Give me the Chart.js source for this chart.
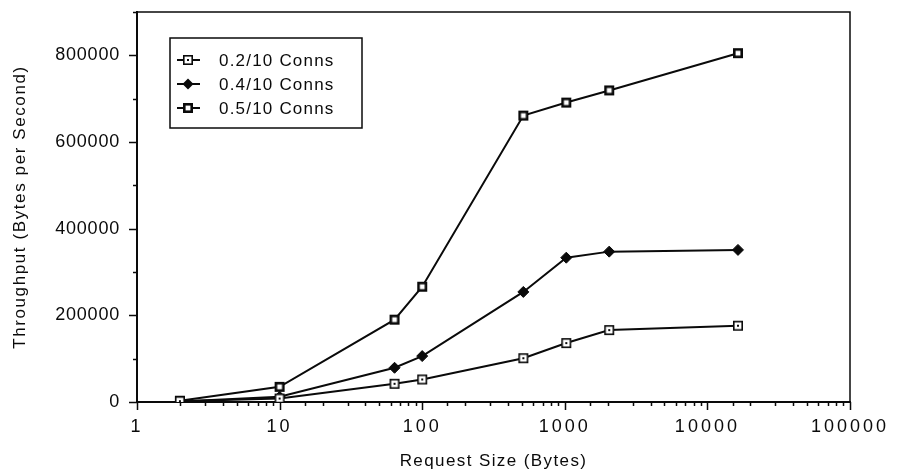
<!DOCTYPE html>
<html lang="en">
<head>
<meta charset="UTF-8">
<title>Throughput vs Request Size</title>
<script src="https://cdn.jsdelivr.net/npm/chart.js"></script>
<style>
  body { margin: 0; background: #fff; }
  #wrap { width: 904px; height: 474px; }
</style>
</head>
<body>
<div id="wrap"><canvas id="chart" width="904" height="474"></canvas></div>
<script>
// values
const requestSizes = [2, 10, 64, 100, 512, 1024, 2048, 16384];
const conns02 = [2000, 8000, 42000, 52000, 101000, 136000, 166000, 176000];
const conns04 = [1000, 12000, 79000, 106000, 254000, 333000, 347000, 351000];
const conns05 = [3000, 35000, 190000, 266000, 661000, 691000, 719000, 805000];
const seriesLabels = ['0.2/10 Conns', '0.4/10 Conns', '0.5/10 Conns'];
const xTickLabels = [1, 10, 100, 1000, 10000, 100000];
const yTickLabels = [0, 200000, 400000, 600000, 800000];

const ink = '#0a0a0a';
const fontFamily = '"Liberation Sans", Arial, Helvetica, sans-serif';

// small square markers (drawn once, used as point images)
function squareMarker(lineW, dot) {
    const c = document.createElement('canvas');
    c.width = 12; c.height = 12;
    const g = c.getContext('2d');
    g.fillStyle = '#fff';
    g.fillRect(1, 1, 10, 10);
    g.strokeStyle = ink;
    g.lineWidth = lineW;
    g.strokeRect(1 + lineW / 2, 1 + lineW / 2, 10 - lineW, 10 - lineW);
    if (dot) { g.fillStyle = ink; g.fillRect(5, 5, 2, 2); }
    return c;
}
const dotSquare = squareMarker(1.6, true);
const boldSquare = squareMarker(2.6, false);

function toPoints(ys) {
    return requestSizes.map((x, i) => ({x: x, y: ys[i]}));
}

// letter spacing for the axis texts (the original is a spaced-out print font)
const spacingPlugin = {
    id: 'spacing',
    beforeDraw(chart) {
        [['x', '3px', '1.4px'], ['y', '0.8px', '1.6px']].forEach(([id, tickSp, titleSp]) => {
            const s = chart.scales[id];
            if (s._spaced) return;
            s._spaced = true;
            const dl = s.drawLabels.bind(s);
            const dt = s.drawTitle.bind(s);
            s.drawLabels = (area) => { s.ctx.save(); s.ctx.letterSpacing = tickSp; dl(area); s.ctx.restore(); };
            s.drawTitle = () => { s.ctx.save(); s.ctx.letterSpacing = titleSp; dt(); s.ctx.restore(); };
        });
    }
};

// frame, tick marks and the boxed legend
const frameTicks = {
    id: 'frameTicks',
    afterDraw(chart) {
        const {ctx, chartArea: a, scales: {x, y}} = chart;
        ctx.save();
        ctx.strokeStyle = ink;
        ctx.lineWidth = 1.5;
        ctx.beginPath();
        ctx.moveTo(a.left, a.top);
        ctx.lineTo(a.right, a.top);
        ctx.lineTo(a.right, a.bottom);
        x.ticks.forEach(t => {
            const px = Math.round(x.getPixelForValue(t.value)) + 0.5;
            const len = xTickLabels.includes(t.value) ? 8 : 4;
            ctx.moveTo(px, a.bottom);
            ctx.lineTo(px, a.bottom + len);
        });
        y.ticks.forEach(t => {
            const py = Math.round(y.getPixelForValue(t.value)) + 0.5;
            const len = yTickLabels.includes(t.value) ? 8 : 4;
            ctx.moveTo(a.left, py);
            ctx.lineTo(a.left - len, py);
        });
        ctx.stroke();

        // legend
        const lx = a.left + 33, ly = a.top + 26;
        ctx.lineWidth = 1.5;
        ctx.strokeRect(lx, ly, 192, 90);
        ctx.font = '17px ' + fontFamily;
        ctx.letterSpacing = '1.2px';
        ctx.textBaseline = 'middle';
        ctx.fillStyle = ink;
        chart.data.datasets.forEach((ds, i) => {
            const cy = ly + 22 + i * 24;
            ctx.lineWidth = 2;
            ctx.beginPath();
            ctx.moveTo(lx + 7, cy);
            ctx.lineTo(lx + 30, cy);
            ctx.stroke();
            if (ds.pointStyle instanceof HTMLCanvasElement) {
                ctx.drawImage(ds.pointStyle, lx + 18 - 6, cy - 6);
            } else {
                const r = ds.pointRadius;
                ctx.beginPath();
                ctx.moveTo(lx + 18, cy - r);
                ctx.lineTo(lx + 18 + r, cy);
                ctx.lineTo(lx + 18, cy + r);
                ctx.lineTo(lx + 18 - r, cy);
                ctx.closePath();
                ctx.fill();
            }
            ctx.fillText(ds.label, lx + 49, cy + 1);
        });
        ctx.restore();
    }
};

const ctx = document.getElementById('chart').getContext('2d');
const chart = new Chart(ctx, {
    type: 'line',
    data: {
        datasets: [
            {
                label: seriesLabels[0],
                data: toPoints(conns02),
                borderColor: ink,
                borderWidth: 2,
                pointStyle: dotSquare,
                pointRadius: 6,
                fill: false
            },
            {
                label: seriesLabels[1],
                data: toPoints(conns04),
                borderColor: ink,
                backgroundColor: ink,
                borderWidth: 2,
                pointStyle: 'rectRot',
                pointRadius: 5.5,
                pointBorderWidth: 1,
                fill: false
            },
            {
                label: seriesLabels[2],
                data: toPoints(conns05),
                borderColor: ink,
                borderWidth: 2,
                pointStyle: boldSquare,
                pointRadius: 6,
                fill: false
            }
        ]
    },
    options: {
        responsive: false,
        animation: false,
        events: [],
        layout: { padding: { top: 12, right: 54, left: 0, bottom: 0 } },
        plugins: {
            legend: { display: false },
            tooltip: { enabled: false }
        },
        scales: {
            x: {
                type: 'logarithmic',
                min: 1,
                max: 100000,
                grid: { display: false, drawTicks: false },
                border: { display: true, color: ink, width: 2 },
                ticks: {
                    autoSkip: false,
                    maxRotation: 0,
                    padding: 14,
                    color: ink,
                    font: { family: fontFamily, size: 18 },
                    callback: v => xTickLabels.includes(v) ? String(v) : ''
                },
                title: {
                    display: true,
                    text: 'Request Size (Bytes)',
                    color: ink,
                    font: { family: fontFamily, size: 17 },
                    padding: { top: 0, bottom: 2 }
                },
                afterFit: s => { s.height = 72; s.paddingLeft = 0; s.paddingRight = 0; }
            },
            y: {
                min: 0,
                max: 900000,
                grid: { display: false, drawTicks: false },
                border: { display: true, color: ink, width: 2 },
                ticks: {
                    stepSize: 100000,
                    autoSkip: false,
                    padding: 17,
                    color: ink,
                    font: { family: fontFamily, size: 18 },
                    callback: v => yTickLabels.includes(v) ? String(v) : ''
                },
                title: {
                    display: true,
                    text: 'Throughput (Bytes per Second)',
                    color: ink,
                    font: { family: fontFamily, size: 17 },
                    padding: { top: 10, bottom: 0 }
                },
                afterFit: s => { s.width = 137; s.paddingTop = 0; s.paddingBottom = 0; }
            }
        }
    },
    plugins: [spacingPlugin, frameTicks]
});
</script>
</body>
</html>
